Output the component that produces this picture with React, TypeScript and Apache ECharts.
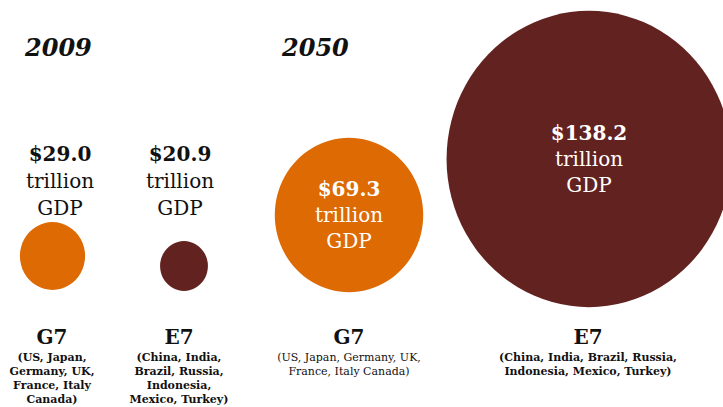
import React, { useEffect, useRef } from "react";
import * as echarts from "echarts";

// ---- data ----
const GROUPS = ["G7", "E7", "G7", "E7"];
const YEARS = ["2009", "2009", "2050", "2050"];
const GDP_TRILLION = [29.0, 20.9, 69.3, 138.2];
const MEMBERS = [
  ["(US, Japan,", "Germany, UK,", "France, Italy", "Canada)"],
  ["(China, India,", "Brazil, Russia,", "Indonesia,", "Mexico, Turkey)"],
  ["(US, Japan, Germany, UK,", "France, Italy Canada)"],
  ["(China, India, Brazil, Russia,", "Indonesia, Mexico, Turkey)"],
];
const YEAR_TITLES = ["2009", "2050"];

// ---- layout (pixel frame of the hidden axes) ----
const W = 723;
const H = 407;
const COL_X = [52.5, 184, 349, 589];
const CIRCLE_Y = [256, 266, 215, 159];
const VALUE_LABEL_X = [60, 180, 349, 589];
const VALUE_LABEL_Y = 181; // centre of the value text block above the 2009 circles
const GROUP_LABEL_X = [52, 179, 349, 588];
const GROUP_LABEL_TOP = 322.5;
const TITLE_X = [25, 282];

const FONT = "'DejaVu Serif', 'Liberation Serif', serif";
const ORANGE = "#DD6A02";
const MAROON = "#622320";
const INK = "#111111";

const diameter = (v: number) => 2.71 * Math.pow(v, 0.9445);

export default function App() {
  const ref = useRef<HTMLDivElement>(null);
  useEffect(() => {
    if (!ref.current) return;
    const chart = echarts.init(ref.current, undefined, { renderer: "svg" });

    const fmt = (v: number) => "$" + v.toFixed(1);

    const circleData = GDP_TRILLION.map((v, i) => ({
      value: [COL_X[i], CIRCLE_Y[i], v],
      itemStyle: { color: GROUPS[i] === "G7" ? ORANGE : MAROON, opacity: 1 },
      label: {
        show: YEARS[i] === "2050",
        position: "inside",
        formatter: `{b|${fmt(v)}}\n{r|trillion}\n{r|GDP}`,
        rich: {
          b: { fontFamily: FONT, fontSize: 20, fontWeight: "bold", color: "#fff", lineHeight: 26, align: "center" },
          r: { fontFamily: FONT, fontSize: 20, color: "#fff", lineHeight: 26, align: "center" },
        },
      },
    }));

    const outerValueData = GDP_TRILLION.map((v, i) => ({ v, i }))
      .filter((d) => YEARS[d.i] === "2009")
      .map((d) => ({
        value: [VALUE_LABEL_X[d.i], VALUE_LABEL_Y, d.v],
        label: {
          show: true,
          position: "inside",
          formatter: `{b|${fmt(d.v)}}\n{r|trillion}\n{r|GDP}`,
        },
      }));

    const groupData = GROUPS.map((g, i) => {
      const subStyle = YEARS[i] === "2050" && g === "G7" ? "sr" : "sb";
      return {
        value: [GROUP_LABEL_X[i], GROUP_LABEL_TOP, 0],
        label: {
          show: true,
          position: "bottom",
          distance: 0,
          formatter: [`{t|${g}}`, ...MEMBERS[i].map((m) => `{${subStyle}|${m}}`)].join("\n"),
        },
      };
    });

    chart.setOption({
      animation: false,
      backgroundColor: "#ffffff",
      title: YEAR_TITLES.map((t, k) => ({
        text: t,
        left: TITLE_X[k],
        top: 32.5,
        padding: 0,
        textStyle: {
          fontFamily: FONT,
          fontSize: 24,
          fontWeight: "bold",
          fontStyle: "italic",
          color: INK,
          lineHeight: 30,
        },
      })),
      grid: { left: 0, right: 0, top: 0, bottom: 0 },
      xAxis: { type: "value", min: 0, max: W, show: false },
      yAxis: { type: "value", min: 0, max: H, inverse: true, show: false },
      series: [
        {
          type: "scatter",
          clip: false,
          symbol: "circle",
          itemStyle: { opacity: 1 },
          symbolSize: (val: number[]) => {
            const d = diameter(val[2]);
            return [d, d * 1.04];
          },
          data: circleData,
          z: 2,
        },
        {
          type: "scatter",
          symbolSize: 0,
          silent: true,
          itemStyle: { opacity: 1 },
          data: outerValueData,
          label: {
            opacity: 1,
            rich: {
              b: { fontFamily: FONT, fontSize: 20, fontWeight: "bold", color: INK, lineHeight: 27, align: "center" },
              r: { fontFamily: FONT, fontSize: 20, color: INK, lineHeight: 27, align: "center" },
            },
          },
          z: 3,
        },
        {
          type: "scatter",
          symbolSize: 0,
          silent: true,
          itemStyle: { opacity: 1 },
          data: groupData,
          label: {
            opacity: 1,
            rich: {
              t: { fontFamily: FONT, fontSize: 20, fontWeight: "bold", color: INK, lineHeight: 28, align: "center" },
              sb: { fontFamily: FONT, fontSize: 11, fontWeight: "bold", color: INK, lineHeight: 14, align: "center" },
              sr: { fontFamily: FONT, fontSize: 11, color: INK, lineHeight: 14, align: "center" },
            },
          },
          z: 3,
        },
      ],
    });

    return () => chart.dispose();
  }, []);

  return (
    <div
      ref={ref}
      style={{ position: "fixed", left: 0, top: 0, width: W, height: H, background: "#fff" }}
    />
  );
}
